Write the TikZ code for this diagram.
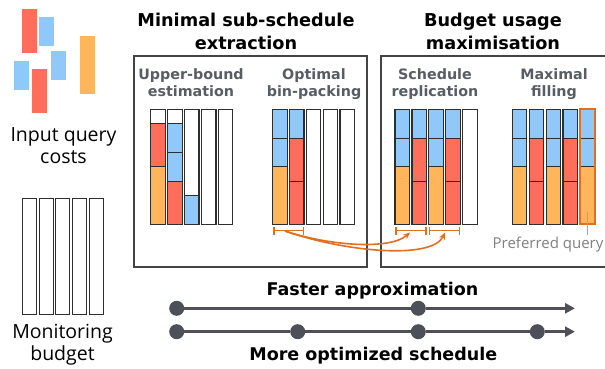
\documentclass[tikz,border=0pt]{standalone}
\usepackage{fontspec}
\setmainfont{Open Sans}
\newfontfamily\headfont{DejaVu Sans}
\usepackage{tikz}
\definecolor{qred}{HTML}{FF6E5A}
\definecolor{qblue}{HTML}{91C8FA}
\definecolor{qorange}{HTML}{FFB65A}
\definecolor{accent}{HTML}{E0701E}
\definecolor{edge}{HTML}{2E2E2E}
\definecolor{frame}{HTML}{444444}
\definecolor{subgray}{HTML}{585C64}
\definecolor{axis}{HTML}{4D5058}
\usetikzlibrary{arrows.meta}

% slice of a bin, from/to counted in quarters of the bin height
\newcommand{\seg}[4]{\filldraw[#4,draw=edge,line width=0.9pt] (#1,{109.3+#2*28.75}) rectangle ({#1+14.5},{109.3+#3*28.75});}
\newcommand{\bin}[1]{\draw[edge,line width=1.2pt] (#1,109.3) rectangle ({#1+14.5},224.3);}
\newcommand{\binA}[1]{\seg{#1}{0}{1}{qblue}\seg{#1}{1}{2}{qblue}\seg{#1}{2}{4}{qorange}}
\newcommand{\binB}[1]{\seg{#1}{0}{1}{qblue}\seg{#1}{1}{2.5}{qred}\seg{#1}{2.5}{4}{qred}}

\begin{document}
\begin{tikzpicture}[x=1pt,y=-1pt,
  title/.style={font=\headfont\bfseries\fontsize{17.7}{22.6}\selectfont,align=center,inner sep=0},
  subtitle/.style={font=\headfont\bfseries\fontsize{14.3}{17.6}\selectfont,align=center,text=subgray,inner sep=0},
  label/.style={font=\fontsize{19.5}{21.5}\selectfont,align=center,inner sep=0},
  dot/.style={circle,fill=axis,inner sep=0,minimum size=15pt},
  axisline/.style={axis,line width=3pt},
  bracket/.style={accent,line width=1.5pt,{Bar[width=8pt]}-{Bar[width=8pt]}}]

  \useasboundingbox (0,0) rectangle (605,369);

  % input query costs
  \fill[qred] (22,9) rectangle (36.7,52.7);
  \fill[qblue] (39,16.7) rectangle (53.7,45.7);
  \fill[qblue] (14,61) rectangle (28.7,89.7);
  \fill[qred] (32,69) rectangle (46.7,112.7);
  \fill[qblue] (51,51) rectangle (65.7,79.7);
  \fill[qorange] (80,35.7) rectangle (95,93.7);
  \node[label,anchor=base] (inlbl) at (63.5,163.3) {Input query\\costs};

  % monitoring budget
  \foreach \i in {0,...,4}
    \draw[edge,line width=0.9pt] ({22.7+16.6*\i},198.3) rectangle ++(14,116);
  \node[label,anchor=base] (budlbl) at (62.5,360) {Monitoring\\budget};

  % frames
  \draw[frame,line width=1.2pt] (134,56) rectangle (367,267);
  \draw[frame,line width=1.2pt] (605,56) -- (381,56) -- (381,267) -- (605,267);

  \node[title,anchor=base] (ttlmin) at (246,49.3) {Minimal sub-schedule\\extraction};
  \node[title,anchor=base] (ttlbud) at (493,49.3) {Budget usage\\maximisation};

  \node[subtitle,anchor=base] (hdrub) at (191,96.7) {Upper-bound\\estimation};
  \node[subtitle,anchor=base] (hdrbp) at (314,96.7) {Optimal\\bin-packing};
  \node[subtitle,anchor=base] (hdrrep) at (435,96.7) {Schedule\\replication};
  \node[subtitle,anchor=base] (hdrfill) at (554,96.7) {Maximal\\filling};

  % upper-bound estimation
  \seg{150.7}{0.5}{2}{qred}
  \seg{150.7}{2}{4}{qorange}
  \seg{167.6}{0.5}{1.5}{qblue}
  \seg{167.6}{1.5}{2.5}{qblue}
  \seg{167.6}{2.5}{4}{qred}
  \seg{184.5}{3}{4}{qblue}
  \foreach \x in {150.7,167.6,184.5,201.4,218.3}
    {\bin{\x}}

  % optimal bin-packing
  \binA{272.7}
  \binB{289.5}
  \foreach \x in {272.7,289.5,306.3,323.1,339.9}
    {\bin{\x}}

  % schedule replication
  \binA{395}
  \binB{411.9}
  \binA{428.8}
  \binB{445.7}
  \foreach \x in {395,411.9,428.8,445.7,462.6}
    {\bin{\x}}

  % maximal filling
  \binA{512.3}
  \binB{529.2}
  \binA{546.1}
  \binB{563}
  \binA{580.3}
  \foreach \x in {512.3,529.2,546.1,563}
    {\bin{\x}}
  \draw[accent,line width=2pt] (580.3,109.3) rectangle (594.8,224.3);

  \node[font=\fontsize{15}{17}\selectfont,text=gray,anchor=base west,inner sep=1.5pt] (preflbl) at (491,248.3) {Preferred query};
  \coordinate (pq) at (587.5,211.7);
  \draw[gray!70,line width=1pt] (pq) -- (pq |- preflbl.north);

  % replication brackets
  \coordinate (bp1) at (273.3,230.7);
  \coordinate (bp2) at (304,230.7);
  \coordinate (rp1) at (395.3,230.7);
  \coordinate (rp2) at (426.7,230.7);
  \coordinate (rp3) at (428.7,230.7);
  \coordinate (rp4) at (460,230.7);
  \draw[bracket] (bp1) -- (bp2);
  \draw[bracket] (rp1) -- (rp2);
  \draw[bracket] (rp3) -- (rp4);
  \coordinate (src) at (285,231);
  \coordinate (dst1) at (410,232.5);
  \coordinate (dst2) at (445,232.5);
  \draw[accent,line width=1.6pt,-{Stealth[length=7pt,width=6pt]}] (src) .. controls (330,246) and (390,250) .. (dst1);
  \draw[accent,line width=1.6pt,-{Stealth[length=7pt,width=6pt]}] (src) .. controls (345,252) and (432,260) .. (dst2);

  % trade-off axes
  \node[dot] (f1) at (176.7,308.3) {};
  \node[dot] (f2) at (418.3,308.3) {};
  \coordinate (fend) at (575,308.3);
  \draw[axisline,-{Triangle[length=10pt,width=10pt]}] (f1) -- (f2) -- (fend);
  \node[dot] (o1) at (176.7,331.7) {};
  \node[dot] (o2) at (297.7,331.7) {};
  \node[dot] (o3) at (418.3,331.7) {};
  \node[dot] (o4) at (537.3,331.7) {};
  \coordinate (oend) at (575,331.7);
  \draw[axisline,-{Triangle[length=10pt,width=10pt]}] (o1) -- (o2) -- (o3) -- (o4) -- (oend);

  \node[font=\headfont\bfseries\fontsize{17.5}{20}\selectfont,anchor=base] (fastlbl) at (372.5,295) {Faster approximation};
  \node[font=\headfont\bfseries\fontsize{17.5}{20}\selectfont,anchor=base] (optlbl) at (373.3,360.7) {More optimized schedule};
\end{tikzpicture}
\end{document}
